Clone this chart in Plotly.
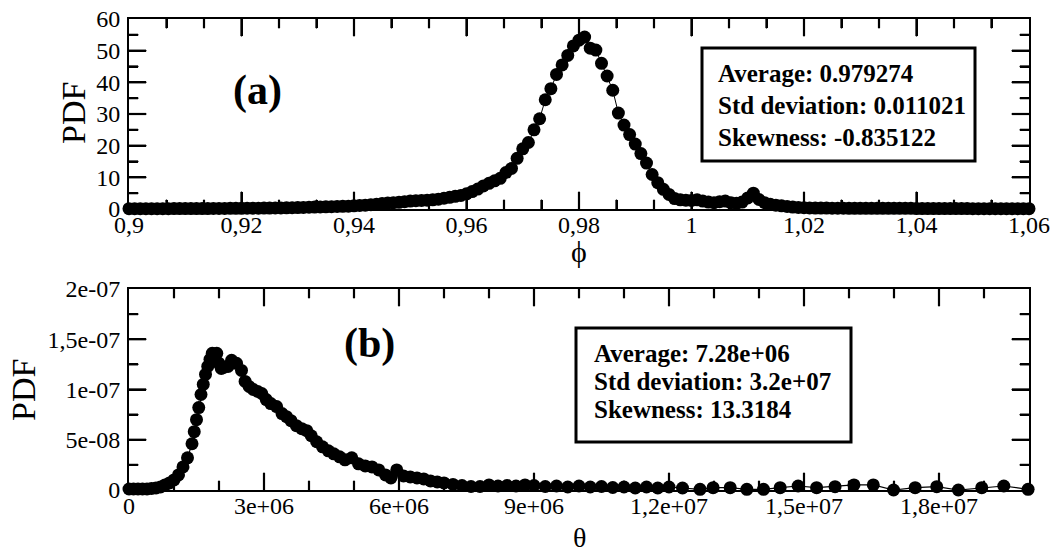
import plotly.graph_objects as go

# ---------------- data ----------------
PHI = [0.900, 0.901, 0.902, 0.903, 0.904, 0.905, 0.906, 0.907, 0.908, 0.909,
       0.910, 0.911, 0.912, 0.913, 0.914, 0.915, 0.916, 0.917, 0.918, 0.919,
       0.920, 0.921, 0.922, 0.923, 0.924, 0.925, 0.926, 0.927, 0.928, 0.929,
       0.930, 0.931, 0.932, 0.933, 0.934, 0.935, 0.936, 0.937, 0.938, 0.939,
       0.940, 0.941, 0.942, 0.943, 0.944, 0.945, 0.946, 0.947, 0.948, 0.949,
       0.950, 0.951, 0.952, 0.953, 0.954, 0.955, 0.956, 0.957, 0.958, 0.959,
       0.960, 0.961, 0.962, 0.963, 0.964, 0.965, 0.966, 0.967, 0.968, 0.969,
       0.970, 0.971, 0.972, 0.973, 0.974, 0.975, 0.976, 0.977, 0.978, 0.979,
       0.980, 0.981, 0.982, 0.983, 0.984, 0.985, 0.986, 0.987, 0.988, 0.989,
       0.990, 0.991, 0.992, 0.993, 0.994, 0.995, 0.996, 0.997, 0.998, 0.999,
       1.000, 1.001, 1.002, 1.003, 1.004, 1.005, 1.006, 1.007, 1.008, 1.009,
       1.010, 1.011, 1.012, 1.013, 1.014, 1.015, 1.016, 1.017, 1.018, 1.019,
       1.020, 1.021, 1.022, 1.023, 1.024, 1.025, 1.026, 1.027, 1.028, 1.029,
       1.030, 1.031, 1.032, 1.033, 1.034, 1.035, 1.036, 1.037, 1.038, 1.039,
       1.040, 1.041, 1.042, 1.043, 1.044, 1.045, 1.046, 1.047, 1.048, 1.049,
       1.050, 1.051, 1.052, 1.053, 1.054, 1.055, 1.056, 1.057, 1.058, 1.059,
       1.060]
PDF_PHI = [0.10, 0.10, 0.10, 0.10, 0.10, 0.10, 0.10, 0.10, 0.12, 0.12,
           0.13, 0.13, 0.14, 0.15, 0.15, 0.16, 0.17, 0.18, 0.20, 0.20,
           0.22, 0.23, 0.25, 0.27, 0.30, 0.30, 0.32, 0.35, 0.38, 0.40,
           0.45, 0.50, 0.55, 0.60, 0.65, 0.70, 0.75, 0.80, 0.85, 0.90,
           1.00, 1.10, 1.20, 1.35, 1.50, 1.70, 1.90, 2.00, 2.10, 2.30,
           2.50, 2.60, 2.70, 2.80, 2.90, 3.10, 3.40, 3.70, 4.00, 4.30,
           4.80, 5.50, 6.30, 7.30, 8.10, 8.90, 9.70, 11.5, 12.8, 16.0,
           19.0, 21.0, 25.0, 28.5, 34.5, 38.0, 42.5, 45.5, 48.5, 51.5,
           53.3, 54.3, 50.8, 50.2, 46.0, 42.0, 37.5, 30.3, 26.5, 23.5,
           20.5, 17.5, 14.5, 10.9, 8.30, 6.20, 4.60, 3.30, 2.90, 2.80,
           2.70, 2.90, 2.50, 2.20, 2.00, 2.30, 2.50, 2.00, 1.80, 2.20,
           3.50, 5.00, 3.00, 2.00, 1.50, 1.20, 1.00, 0.80, 0.60, 0.50,
           0.40, 0.35, 0.30, 0.30, 0.30, 0.25, 0.25, 0.25, 0.20, 0.20,
           0.20, 0.20, 0.20, 0.20, 0.20, 0.20, 0.20, 0.20, 0.20, 0.20,
           0.15, 0.15, 0.15, 0.15, 0.15, 0.15, 0.15, 0.15, 0.15, 0.15,
           0.10, 0.10, 0.10, 0.10, 0.10, 0.10, 0.10, 0.10, 0.10, 0.10,
           0.10]

THETA = [0.0, 1.0e5, 2.0e5, 3.0e5, 4.0e5, 5.0e5, 6.0e5, 7.0e5, 8.0e5, 9.0e5,
         1.0e6, 1.1e6, 1.2e6, 1.3e6, 1.4e6, 1.45e6, 1.5e6, 1.55e6, 1.6e6, 1.65e6,
         1.7e6, 1.75e6, 1.8e6, 1.85e6, 1.95e6, 2.0e6, 2.05e6, 2.1e6, 2.2e6, 2.28e6,
         2.39e6, 2.5e6, 2.58e6, 2.67e6, 2.76e6, 2.86e6, 2.95e6, 3.05e6, 3.15e6, 3.28e6,
         3.4e6, 3.5e6, 3.6e6, 3.72e6, 3.84e6, 3.95e6, 4.05e6, 4.17e6, 4.3e6, 4.43e6,
         4.55e6, 4.68e6, 4.8e6, 4.95e6, 5.1e6, 5.25e6, 5.4e6, 5.55e6, 5.7e6, 5.82e6,
         5.95e6, 6.1e6, 6.25e6, 6.4e6, 6.55e6, 6.7e6, 6.85e6, 7.0e6, 7.2e6, 7.4e6,
         7.6e6, 7.8e6, 8.0e6, 8.2e6, 8.4e6, 8.6e6, 8.8e6, 9.0e6, 9.25e6, 9.5e6,
         9.75e6, 1.0e7, 1.025e7, 1.05e7, 1.075e7, 1.1e7, 1.125e7, 1.15e7, 1.175e7, 1.2e7,
         1.23e7, 1.269e7, 1.298e7, 1.336e7, 1.373e7, 1.41e7, 1.447e7, 1.487e7, 1.528e7, 1.569e7,
         1.611e7, 1.654e7, 1.699e7, 1.747e7, 1.795e7, 1.843e7, 1.895e7, 1.944e7, 1.998e7]
PDF_THETA = [1e-9, 1e-9, 1e-9, 1e-9, 1e-9, 1.5e-9, 2e-9, 3e-9, 5e-9, 7e-9,
             1.0e-8, 1.5e-8, 2.3e-8, 3.2e-8, 4.6e-8, 5.8e-8, 7.0e-8, 8.2e-8, 9.5e-8, 1.05e-7,
             1.15e-7, 1.23e-7, 1.30e-7, 1.36e-7, 1.36e-7, 1.26e-7, 1.21e-7, 1.22e-7, 1.23e-7, 1.29e-7,
             1.26e-7, 1.19e-7, 1.08e-7, 1.03e-7, 1.00e-7, 9.8e-8, 9.6e-8, 9.0e-8, 8.6e-8, 8.3e-8,
             7.6e-8, 7.3e-8, 6.9e-8, 6.4e-8, 6.1e-8, 5.9e-8, 5.4e-8, 4.8e-8, 4.3e-8, 3.9e-8,
             3.6e-8, 3.3e-8, 3.0e-8, 3.2e-8, 2.6e-8, 2.4e-8, 2.3e-8, 2.0e-8, 1.5e-8, 1.2e-8,
             2.0e-8, 1.4e-8, 1.3e-8, 1.2e-8, 1.1e-8, 9e-9, 8e-9, 7e-9, 5.5e-9, 4.5e-9,
             3.5e-9, 3.5e-9, 5e-9, 4e-9, 4.5e-9, 4e-9, 5e-9, 4.5e-9, 3.5e-9, 4e-9,
             3e-9, 4e-9, 3e-9, 3.5e-9, 2.5e-9, 3e-9, 2e-9, 3e-9, 2e-9, 3e-9,
             2e-9, 0.7e-9, 2.3e-9, 2.3e-9, 0.7e-9, 0.7e-9, 2.3e-9, 4e-9, 2.3e-9, 3.3e-9,
             5e-9, 5e-9, 0.0, 2.3e-9, 3.3e-9, 0.0, 2.3e-9, 4e-9, 0.7e-9]

PHI_TICKS = [0.90, 0.92, 0.94, 0.96, 0.98, 1.00, 1.02, 1.04, 1.06]
PHI_TICKTEXT = ["0,9", "0,92", "0,94", "0,96", "0,98", "1", "1,02", "1,04", "1,06"]
PDF_PHI_TICKS = [0, 10, 20, 30, 40, 50, 60]
PDF_PHI_TICKTEXT = ["0", "10", "20", "30", "40", "50", "60"]
THETA_TICKS = [0, 3e6, 6e6, 9e6, 1.2e7, 1.5e7, 1.8e7]
THETA_TICKTEXT = ["0", "3e+06", "6e+06", "9e+06", "1,2e+07", "1,5e+07", "1,8e+07"]
PDF_THETA_TICKS = [0, 5e-8, 1e-7, 1.5e-7, 2e-7]
PDF_THETA_TICKTEXT = ["0", "5e-08", "1e-07", "1,5e-07", "2e-07"]

STATS_A = ["Average: 0.979274", "Std deviation: 0.011021", "Skewness: -0.835122"]
STATS_B = ["Average: 7.28e+06", "Std deviation: 3.2e+07", "Skewness: 13.3184"]

# ---------------- layout helpers ----------------
W, H = 1054, 552
FONT = "Liberation Serif, Times New Roman, serif"
X0, X1 = 129, 1029
TOP_A, BOT_A = 19, 209
TOP_B, BOT_B = 289, 490
MAJ, MIN = 17, 9
XR_A, YR_A = [0.9, 1.06], [0, 60]
XR_B, YR_B = [0, 2e7], [0, 2e-7]


def px(x):
    return x / W


def py(y):
    return 1 - y / H


def subdiv(vals, n):
    out = []
    for a, b in zip(vals[:-1], vals[1:]):
        for k in range(1, n):
            out.append(a + (b - a) * k / n)
    return out


fig = go.Figure()

marker = dict(color="black", size=13, line=dict(width=0))
fig.add_trace(go.Scatter(x=PHI, y=PDF_PHI, mode="lines+markers", marker=marker,
                         line=dict(color="black", width=1), cliponaxis=False,
                         xaxis="x", yaxis="y", showlegend=False))
fig.add_trace(go.Scatter(x=THETA, y=PDF_THETA, mode="lines+markers", marker=marker,
                         line=dict(color="black", width=1.2), cliponaxis=False,
                         xaxis="x2", yaxis="y2", showlegend=False))

tickfont = dict(family=FONT, size=24, color="black")


def axis(**kw):
    d = dict(showline=True, linecolor="black", linewidth=2, mirror="allticks",
             ticks="inside", ticklen=MAJ, tickwidth=2, tickcolor="black",
             showgrid=False, zeroline=False, tickfont=tickfont, tickmode="array")
    d.update(kw)
    return d


def minor(dt, t0):
    return dict(dtick=dt, tick0=t0, ticks="inside", ticklen=MIN, tickwidth=2,
                tickcolor="black", showgrid=False)


fig.update_layout(
    template="none",
    width=W, height=H, margin=dict(l=0, r=0, t=0, b=0),
    paper_bgcolor="white", plot_bgcolor="white",
    xaxis=axis(domain=[px(X0), px(X1)], range=XR_A, anchor="y",
               tickvals=PHI_TICKS, ticktext=PHI_TICKTEXT, ticklabelstandoff=-7,
               minor=minor(0.02 / 3, 0.9)),
    yaxis=axis(domain=[py(BOT_A), py(TOP_A)], range=YR_A, anchor="x",
               tickvals=PDF_PHI_TICKS, ticktext=PDF_PHI_TICKTEXT, ticklabelstandoff=2,
               minor=minor(5, 0)),
    xaxis2=axis(domain=[px(X0), px(X1)], range=XR_B, anchor="y2",
                tickvals=THETA_TICKS, ticktext=THETA_TICKTEXT, ticklabelstandoff=-7,
                minor=minor(1e6, 0)),
    yaxis2=axis(domain=[py(BOT_B), py(TOP_B)], range=YR_B, anchor="x2",
                tickvals=PDF_THETA_TICKS, ticktext=PDF_THETA_TICKTEXT, ticklabelstandoff=2,
                minor=minor(2.5e-8, 0)),
)

# ---------------- tick marks as thin filled rectangles (paper space) ----------------
shapes = []


def tick_rect(x0, y0, x1, y1):
    shapes.append(dict(type="rect", xref="paper", yref="paper",
                       x0=px(x0), x1=px(x1), y0=py(y1), y1=py(y0),
                       fillcolor="black", line=dict(color="black", width=1),
                       layer="above"))


def panel_ticks(xr, yr, top, bot, xt_major, xt_minor, yt_major, yt_minor):
    pw, ph = X1 - X0, bot - top
    for vals, ln in ((xt_major, MAJ), (xt_minor, MIN)):
        for v in vals:
            xp = X0 + (v - xr[0]) / (xr[1] - xr[0]) * pw
            tick_rect(xp - 0.6, bot - ln, xp + 0.6, bot)
            tick_rect(xp - 0.6, top, xp + 0.6, top + ln)
    for vals, ln in ((yt_major, MAJ), (yt_minor, MIN)):
        for v in vals:
            yp = bot - (v - yr[0]) / (yr[1] - yr[0]) * ph
            tick_rect(X0, yp - 0.6, X0 + ln, yp + 0.6)
            tick_rect(X1 - ln, yp - 0.6, X1, yp + 0.6)


panel_ticks(XR_A, YR_A, TOP_A, BOT_A, PHI_TICKS[1:-1], subdiv(PHI_TICKS, 3),
            PDF_PHI_TICKS[1:-1], subdiv(PDF_PHI_TICKS, 2))
panel_ticks(XR_B, YR_B, TOP_B, BOT_B, THETA_TICKS[1:], subdiv(THETA_TICKS + [2.1e7], 3)[:-1],
            PDF_THETA_TICKS[1:-1], subdiv(PDF_THETA_TICKS, 2))

ann = []


def text(x, y, s, size, bold=False, angle=0, xanchor="center"):
    ann.append(dict(x=px(x), y=py(y), xref="paper", yref="paper", text=s,
                    showarrow=False, textangle=angle, xanchor=xanchor, yanchor="middle",
                    font=dict(family=FONT, size=size, color="black",
                              weight="bold" if bold else "normal")))


# axis titles
text(73, 113, "PDF", 34, angle=-90)
text(23, 390, "PDF", 34, angle=-90)
text(579, 251, "ϕ", 30)
text(579, 537, "θ", 28)
# panel labels
text(257, 90, "(a)", 42, bold=True)
text(370, 343, "(b)", 42, bold=True)

# stats boxes
for (bx0, by0, bx1, by1), lines, tx, ys in [
    ((702, 48, 975, 161), STATS_A, 716, [73, 105, 137]),
    ((576, 328, 851, 442), STATS_B, 592, [353, 381, 409]),
]:
    shapes.append(dict(type="rect", xref="paper", yref="paper",
                       x0=px(bx0), x1=px(bx1), y0=py(by1), y1=py(by0),
                       line=dict(color="black", width=3), fillcolor="white", layer="above"))
    for s, yy in zip(lines, ys):
        text(tx, yy, s, 25, bold=True, xanchor="left")

fig.update_layout(annotations=ann, shapes=shapes)
fig.write_html("out.html")
